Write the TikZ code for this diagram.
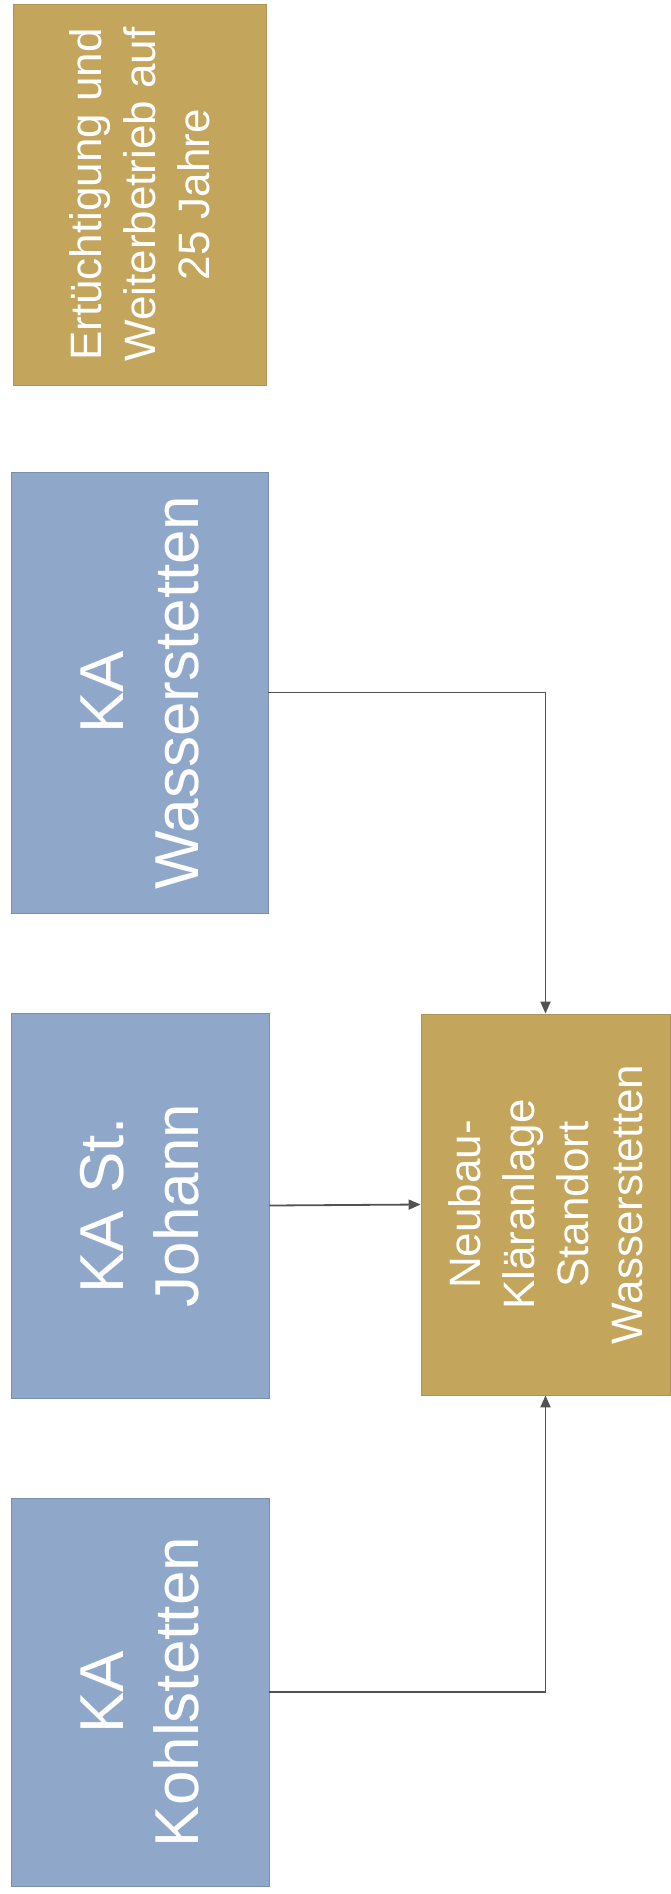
\documentclass[tikz,border=0pt]{standalone}
\usepackage{fontspec}
\setmainfont{Liberation Sans}
\usepackage{tikz}
\usetikzlibrary{arrows.meta,positioning}

\definecolor{kablue}{HTML}{8FA8CA}
\definecolor{kagold}{HTML}{C3A55C}

\begin{document}
\begin{tikzpicture}[x=1pt,y=-1pt,
    kabox/.style={rectangle,rotate=90,fill=kablue,draw=kablue!85!black,line width=0.8pt,
      text=white,align=center,inner sep=0pt,font=\fontsize{62}{75}\selectfont},
    goldbox/.style={rectangle,rotate=90,fill=kagold,draw=kagold!90!black,line width=0.8pt,
      text=white,align=center,inner sep=0pt,font=\fontsize{44}{54}\selectfont},
    flow/.style={line width=1.8pt,draw=black!68,-{Triangle[length=12pt,width=10pt]}}]
      \useasboundingbox (0,0) rectangle (670,1894);

      % Existing plants
      \node[goldbox,minimum width=381,minimum height=253] (ertuecht) at (139.5,194.5)
        {Ertüchtigung und\\Weiterbetrieb auf\\25 Jahre};
      \node[kabox,minimum width=441,minimum height=257] (wasser) at (139.5,692.5)
        {KA\\Wasserstetten};
      \node[kabox,minimum width=385,minimum height=258] (johann) at (140,1205.5)
        {KA St.\\Johann};
      \node[kabox,minimum width=388,minimum height=258] (kohl) at (140,1692)
        {KA\\Kohlstetten};

      % New plant
      \node[goldbox,minimum width=381,minimum height=249] (neubau) at (545.5,1204.5)
        {Neubau-\\Kläranlage\\Standort\\Wasserstetten};

      % Connections (rotated nodes: south = right, east = top, west = bottom)
      \draw[flow] (wasser.south) -| (neubau.east);
      \draw[flow] (johann.south) -- (neubau.north);
      \draw[flow] (kohl.south) -| (neubau.west);
    \end{tikzpicture}
\end{document}
